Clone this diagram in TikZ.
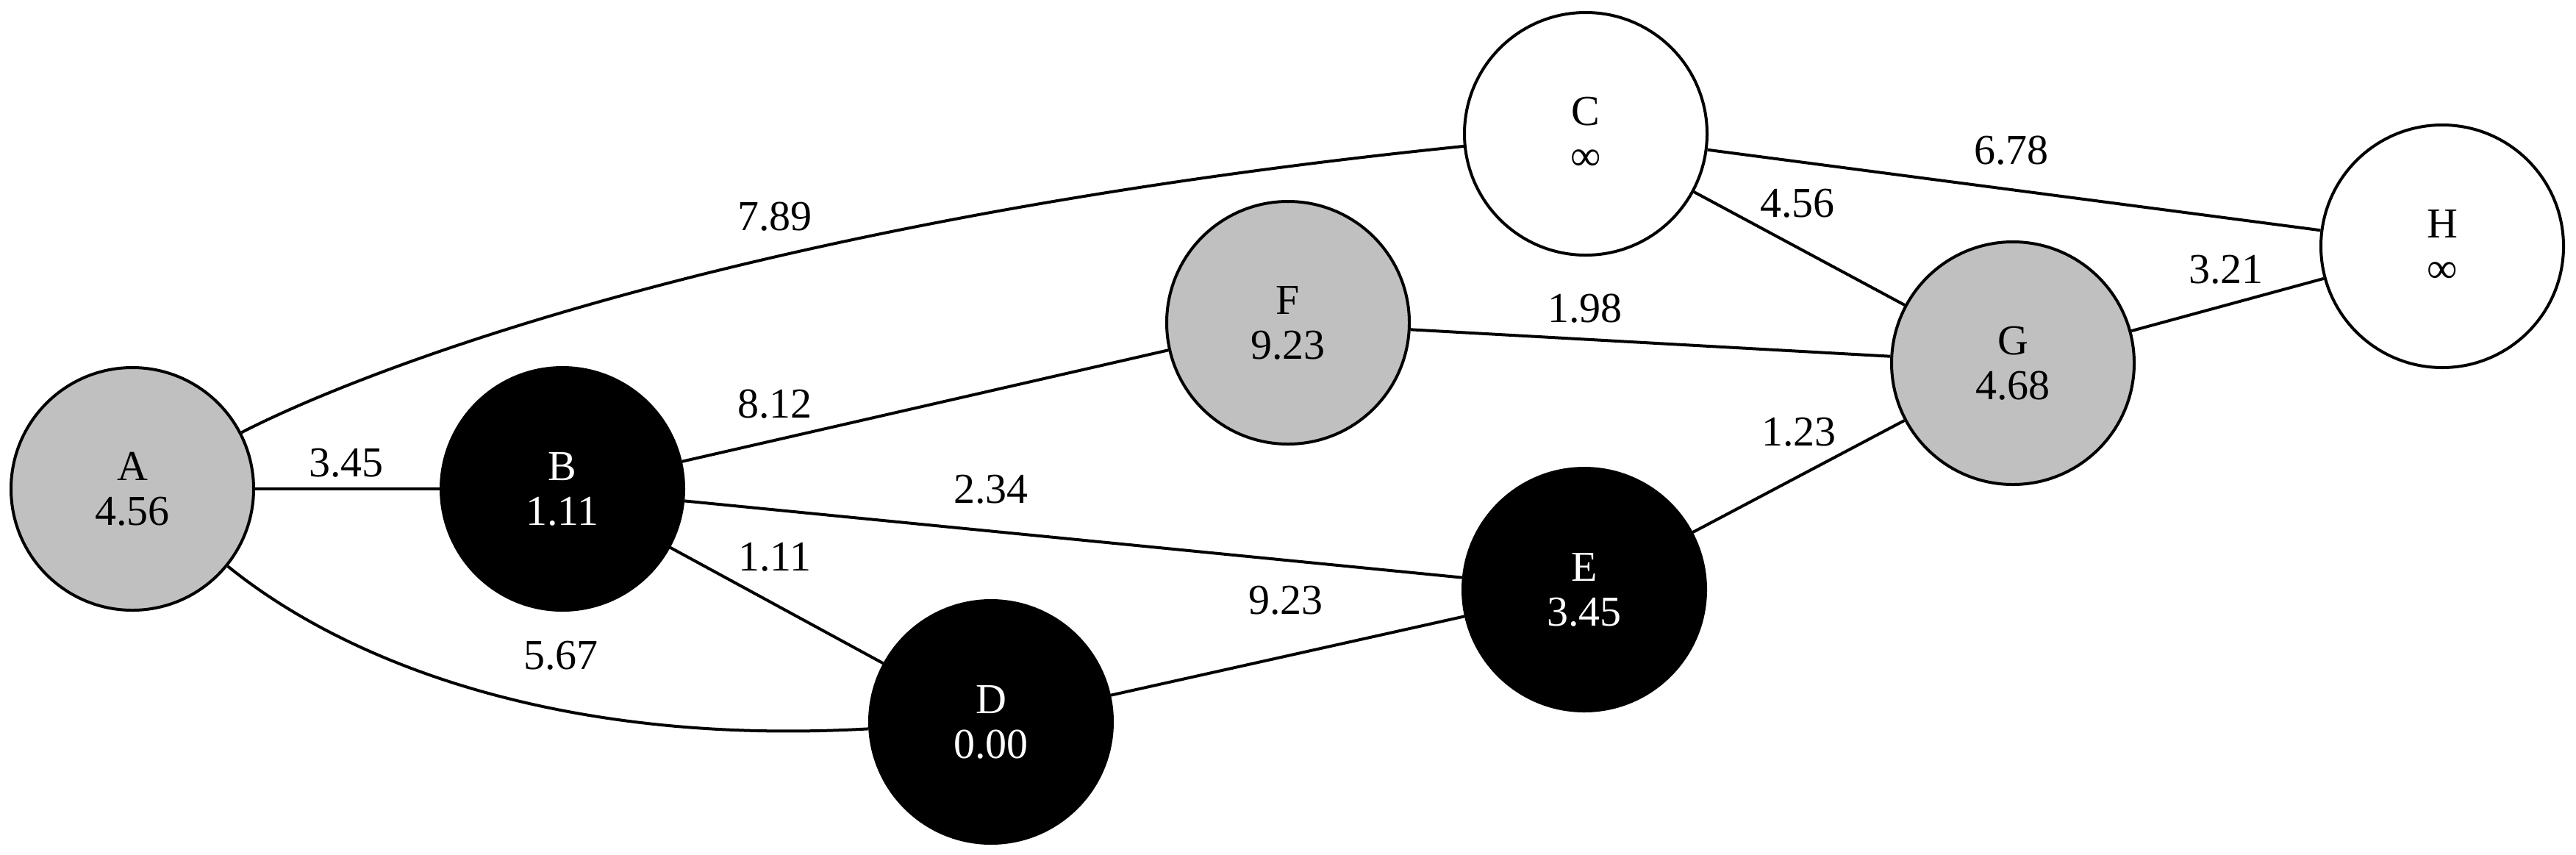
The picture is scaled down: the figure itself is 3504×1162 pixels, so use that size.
\documentclass[tikz,border=0pt]{standalone}
\usepackage{fontspec}
\setmainfont{Liberation Serif}
\definecolor{nodegray}{HTML}{C0C0C0}
\begin{document}
\begin{tikzpicture}[x=0.2pt,y=-0.2pt,
  vert/.style={circle, draw=black, line width=0.8pt, minimum size=66pt, inner sep=0pt, align=center, font=\fontsize{11.6}{12.2}\selectfont},
  grayv/.style={vert, fill=nodegray},
  blackv/.style={vert, fill=black, text=white},
  whitev/.style={vert, fill=white},
  conn/.style={line width=0.8pt, black},
  lbl/.style={inner sep=0pt, font=\fontsize{11.6}{12.2}\selectfont}
]
\useasboundingbox (0,0) rectangle (3504,1162);
% nodes
\node[grayv]  (A) at (180,665)  {A\\4.56};
\node[blackv] (B) at (765,665)  {B\\1.11};
\node[whitev] (C) at (2157,182) {C\\∞};
\node[blackv] (D) at (1348,982) {D\\0.00};
\node[blackv] (E) at (2155,802) {E\\3.45};
\node[grayv]  (F) at (1752,439) {F\\9.23};
\node[grayv]  (G) at (2738,494) {G\\4.68};
\node[whitev] (H) at (3322,335) {H\\∞};
% edges
\draw[conn] (A) .. controls (480,510) and (1000,300) .. (C);
\draw[conn] (A) -- (B);
\draw[conn] (A) .. controls (470,900) and (760,1015) .. (D);
\draw[conn] (B) -- (F);
\draw[conn] (B) -- (E);
\draw[conn] (B) -- (D);
\draw[conn] (D) -- (E);
\draw[conn] (F) -- (G);
\draw[conn] (C) -- (G);
\draw[conn] (C) -- (H);
\draw[conn] (E) -- (G);
\draw[conn] (G) -- (H);
% labels
\node[lbl] (lAC) at (1054,295) {7.89};
\node[lbl] (lAB) at (471,630)  {3.45};
\node[lbl] (lAD) at (763,892)  {5.67};
\node[lbl] (lBF) at (1054,550) {8.12};
\node[lbl] (lBE) at (1348,666) {2.34};
\node[lbl] (lBD) at (1054,758) {1.11};
\node[lbl] (lDE) at (1749,817) {9.23};
\node[lbl] (lFG) at (2156,420) {1.98};
\node[lbl] (lCG) at (2445,277) {4.56};
\node[lbl] (lCH) at (2736,205) {6.78};
\node[lbl] (lEG) at (2447,588) {1.23};
\node[lbl] (lGH) at (3028,367) {3.21};
\end{tikzpicture}
\end{document}
